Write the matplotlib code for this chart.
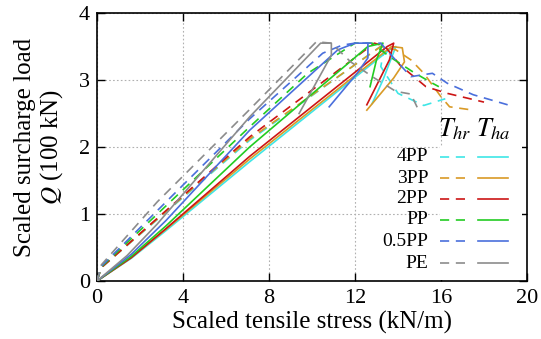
import matplotlib
matplotlib.use("Agg")
import matplotlib.pyplot as plt
from matplotlib.patches import Rectangle

plt.rcParams['font.family'] = ['Liberation Serif', 'DejaVu Serif']
plt.rcParams['mathtext.fontset'] = 'stix'

labels = ["4PP", "3PP", "2PP", "PP", "0.5PP", "PE"]
colors = ["#3ee6e6", "#d99a26", "#cc1515", "#22cc22", "#4a6fdc", "#8c8c8c"]

# T_hr (dashed)
hr_x = {
    "4PP":   [0, 0.2, 7.1, 13.4, 13.2, 14.0, 15.2, 16.2],
    "3PP":   [0, 0.2, 7.1, 13.2, 13.9, 14.6, 15.2, 16.0, 16.4, 17.5],
    "2PP":   [0, 0.2, 7.1, 12.9, 13.4, 14.1, 15.3, 16.3, 18.0],
    "PP":    [0, 0.2, 7.1, 9.8, 12.0, 12.8, 13.6, 14.7, 15.5, 15.9],
    "0.5PP": [0, 0.2, 7.1, 10.5, 11.4, 12.0, 13.2, 13.6, 14.6, 15.6, 16.3, 17.5, 19.1],
    "PE":    [0, 0.2, 2.8, 7.1, 10.2, 10.9, 11.8, 12.9, 13.9, 14.6, 15.0],
}
hr_y = {
    "4PP":   [0, 0.2, 2.1, 3.55, 3.2, 2.8, 2.62, 2.72],
    "3PP":   [0, 0.2, 2.12, 3.5, 3.45, 3.3, 3.1, 2.75, 2.6, 2.55],
    "2PP":   [0, 0.2, 2.15, 3.55, 3.5, 3.22, 2.9, 2.8, 2.67],
    "PP":    [0, 0.21, 2.3, 3.1, 3.55, 3.55, 3.35, 3.12, 2.97, 2.9],
    "0.5PP": [0, 0.22, 2.42, 3.4, 3.52, 3.55, 3.55, 3.4, 3.05, 3.1, 2.95, 2.78, 2.63],
    "PE":    [0, 0.24, 1.18, 2.56, 3.57, 3.55, 3.27, 3.03, 2.83, 2.79, 2.52],
}
# T_ha (solid)
ha_x = {
    "4PP":   [0, 1.6, 3.2, 7.1, 13.6, 13.9, 13.3, 12.8],
    "3PP":   [0, 1.6, 3.2, 7.1, 13.7, 14.2, 14.3, 13.8, 12.55],
    "2PP":   [0, 1.6, 3.2, 7.1, 13.5, 13.8, 13.6, 12.55],
    "PP":    [0, 1.6, 3.2, 7.1, 12.6, 13.3, 13.0, 12.7],
    "0.5PP": [0, 1.6, 3.2, 7.1, 11.2, 12.0, 12.6, 12.6, 12.1, 10.8],
    "PE":    [0, 1.4, 2.8, 7.1, 10.4, 10.9, 10.9, 9.4],
}
ha_y = {
    "4PP":   [0, 0.34, 0.75, 1.78, 3.45, 3.5, 3.0, 2.65],
    "3PP":   [0, 0.35, 0.77, 1.82, 3.5, 3.48, 3.27, 3.03, 2.55],
    "2PP":   [0, 0.35, 0.78, 1.86, 3.5, 3.55, 3.3, 2.63],
    "PP":    [0, 0.37, 0.82, 2.0, 3.5, 3.55, 3.3, 2.9],
    "0.5PP": [0, 0.4, 0.9, 2.25, 3.45, 3.55, 3.55, 3.33, 3.1, 2.6],
    "PE":    [0, 0.38, 0.85, 2.45, 3.55, 3.55, 3.37, 2.5],
}

x_ticks = [0, 4, 8, 12, 16, 20]
y_ticks = [0, 1, 2, 3, 4]

fig = plt.figure(figsize=(5.41, 3.39), dpi=100)
ax = fig.add_axes([97/541, 1-281/339, 430/541, 268/339])

dash = (5.5, 4)
lw = 1.2
for lab, c in zip(labels, colors):
    ax.plot(hr_x[lab], hr_y[lab], color=c, lw=lw, linestyle=(0, dash), zorder=3)
    ax.plot(ha_x[lab], ha_y[lab], color=c, lw=lw, zorder=3)

ax.set_xlim(0, 20)
ax.set_ylim(0, 4)
ax.set_xticks(x_ticks)
ax.set_yticks(y_ticks)
ax.grid(True, color="#b0b0b0", linestyle=(0, (1.5, 2)), linewidth=0.8)
ax.set_axisbelow(True)
ax.tick_params(direction='in', length=6, width=1.0, top=True, right=True,
               labelsize=16)
ax.tick_params(axis='x', pad=6)
ax.tick_params(axis='y', pad=5)
for s in ax.spines.values():
    s.set_linewidth(1.2)

ax.set_xlabel("Scaled tensile stress (kN/m)", fontsize=18, labelpad=2)
ax.set_ylabel("Scaled surcharge load\n$Q$ (100 kN)", fontsize=18, labelpad=10,
              linespacing=1.1)

# manual legend
T = ax.transAxes
ax.add_patch(Rectangle((0.798, 0.005), 0.19, 0.5, transform=T, facecolor='white',
                       edgecolor='none', zorder=2))
ax.text(0.833, 0.565, "$T_{hr}$", transform=T, ha='center', va='center', fontsize=19, zorder=4)
ax.text(0.921, 0.565, "$T_{ha}$", transform=T, ha='center', va='center', fontsize=19, zorder=4)
rows = [0.463, 0.384, 0.306, 0.228, 0.149, 0.067]
for lab, c, yy in zip(labels, colors, rows):
    ax.text(0.770, yy, lab, transform=T, ha='right', va='center', fontsize=14, zorder=4)
    ax.plot([0.798, 0.858], [yy, yy], transform=T, color=c, lw=lw,
            linestyle=(0, dash), zorder=4, clip_on=False)
    ax.plot([0.886, 0.956], [yy, yy], transform=T, color=c, lw=lw, zorder=4,
            clip_on=False)

fig.savefig("out.png", dpi=100)
